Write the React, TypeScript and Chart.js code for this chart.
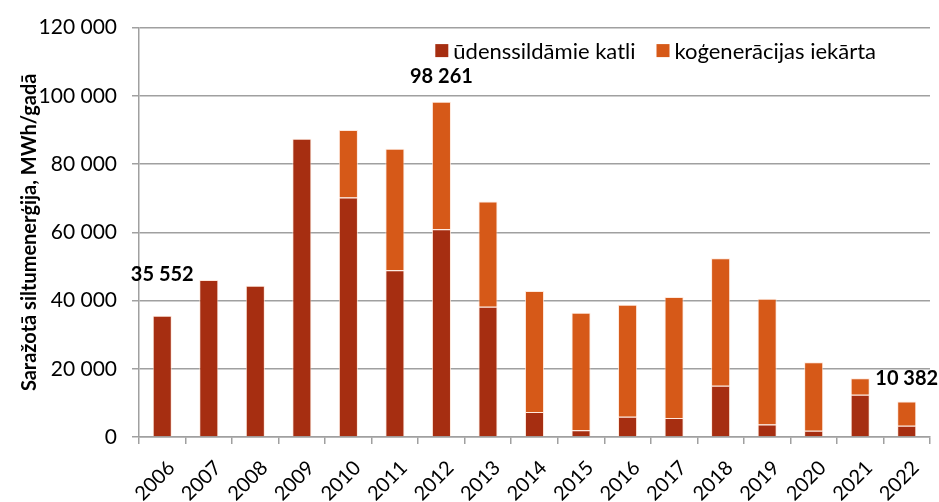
import React, { useEffect, useRef } from "react";
import { Chart, registerables } from "chart.js";

Chart.register(...registerables);

const categories = ["2006", "2007", "2008", "2009", "2010", "2011", "2012", "2013", "2014", "2015", "2016", "2017", "2018", "2019", "2020", "2021", "2022"];
const boilers = [35552, 46000, 44300, 87400, 70200, 48900, 60900, 38150, 7300, 2000, 5900, 5600, 15000, 3700, 1850, 12400, 3300];
const chp = [0, 0, 0, 0, 19800, 35600, 37361, 30850, 35500, 34400, 32900, 35400, 37400, 36800, 20050, 4800, 7082];
const seriesNames = ["ūdenssildāmie katli", "koģenerācijas iekārta"];
const seriesColors = ["#A62E11", "#D65918"];
const labelledIndexes = [0, 6, 16];
const labelLift = [41, 25, 23];
const yTitle = "Saražotā siltumenerģija, MWh/gadā";
const FONT = "Lato";

const fmt = (n: number) => String(Math.round(n)).replace(/\B(?=(\d{3})+(?!\d))/g, " ");

const totalsPlugin = {
  id: "totals",
  afterDatasetsDraw(chart: any) {
    const ctx = chart.ctx;
    ctx.save();
    ctx.font = `bold 20px ${FONT}`;
    ctx.fillStyle = "#000";
    ctx.textAlign = "center";
    ctx.textBaseline = "middle";
    labelledIndexes.forEach((idx, k) => {
      let total = 0;
      let top = Infinity;
      let x = 0;
      chart.data.datasets.forEach((ds: any, di: number) => {
        total += ds.data[idx];
        const el = chart.getDatasetMeta(di).data[idx];
        if (el) {
          top = Math.min(top, el.y);
          x = el.x;
        }
      });
      ctx.fillText(fmt(total), x, top - labelLift[k]);
    });
    ctx.restore();
  },
};

const legendPlugin = {
  id: "customLegend",
  afterDraw(chart: any) {
    const ctx = chart.ctx;
    const area = chart.chartArea;
    ctx.save();
    ctx.font = `22px ${FONT}`;
    ctx.textBaseline = "middle";
    ctx.textAlign = "left";
    const box = 13;
    const gapBoxText = 5;
    const gapItems = 21;
    const widths = chart.data.datasets.map((d: any) => ctx.measureText(d.label).width);
    let total = 0;
    widths.forEach((w: number, i: number) => {
      total += box + gapBoxText + w + (i < widths.length - 1 ? gapItems : 0);
    });
    let x = area.right - 54 - total;
    const yc = area.top + 23;
    chart.data.datasets.forEach((d: any, i: number) => {
      ctx.fillStyle = d.backgroundColor;
      ctx.fillRect(x, yc - box / 2, box, box);
      x += box + gapBoxText;
      ctx.fillStyle = "#000";
      ctx.fillText(d.label, x, yc + 1);
      x += widths[i] + gapItems;
    });
    ctx.restore();
  },
};

export default function App() {
  const ref = useRef<HTMLCanvasElement | null>(null);
  useEffect(() => {
    if (!ref.current) return;
    const chart = new Chart(ref.current, {
      type: "bar",
      data: {
        labels: categories,
        datasets: [
          {
            label: seriesNames[0],
            data: boilers,
            backgroundColor: seriesColors[0],
            borderColor: "rgba(255,225,210,0.75)",
            borderWidth: 1,
            categoryPercentage: 1,
            barPercentage: 0.41,
          },
          {
            label: seriesNames[1],
            data: chp,
            backgroundColor: seriesColors[1],
            borderColor: "rgba(255,225,210,0.75)",
            borderWidth: 1,
            categoryPercentage: 1,
            barPercentage: 0.41,
          },
        ],
      },
      options: {
        animation: false,
        responsive: true,
        maintainAspectRatio: false,
        layout: { padding: { top: 10, right: 9, left: 18, bottom: 0 } },
        plugins: {
          legend: { display: false },
          tooltip: { enabled: false },
        },
        scales: {
          x: {
            stacked: true,
            afterFit: (scale: any) => {
              scale.height = 65;
            },
            grid: {
              display: true,
              drawOnChartArea: false,
              drawTicks: true,
              tickLength: 7,
              color: "#a0a0a0",
              lineWidth: 1.5,
            },
            border: { display: true, color: "#a0a0a0", width: 1.5 },
            ticks: {
              color: "#000",
              font: { family: FONT, size: 20 },
              minRotation: 45,
              maxRotation: 45,
              padding: 12,
              labelOffset: 9,
            },
          },
          y: {
            stacked: true,
            min: 0,
            max: 120000,
            afterFit: (scale: any) => {
              scale.width = 121;
            },
            ticks: {
              stepSize: 20000,
              color: "#000",
              font: { family: FONT, size: 21 },
              padding: 15,
              callback: (v: any) => fmt(Number(v)),
            },
            grid: {
              color: "#a0a0a0",
              lineWidth: 1.5,
              tickLength: 7,
            },
            border: { display: true, color: "#a0a0a0", width: 1.5 },
            title: {
              display: true,
              text: yTitle,
              color: "#000",
              font: { family: FONT, size: 20, weight: "bold" },
              padding: { top: 0, bottom: 0 },
            },
          },
        },
      },
      plugins: [totalsPlugin, legendPlugin],
    });
    return () => chart.destroy();
  }, []);
  return (
    <div style={{ position: "fixed", left: 0, top: 0, width: 939, height: 502, background: "#fff" }}>
      <canvas ref={ref} />
    </div>
  );
}
